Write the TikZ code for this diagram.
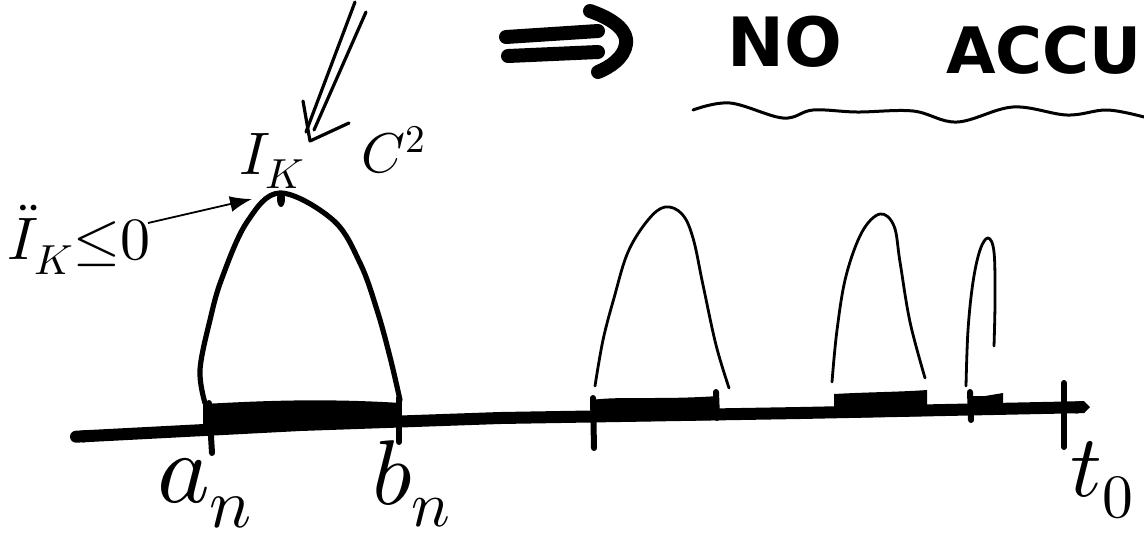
\documentclass[tikz,border=0pt]{standalone}
\usepackage{fontspec}
\usepackage{unicode-math}
\setmathfont{Latin Modern Math}
\newfontfamily\headfont{DejaVu Sans}
\usetikzlibrary{arrows.meta}
\tikzset{
  axisline/.style={line width=6pt, line join=round},
  tickmark/.style={line width=3pt, line cap=round},
  barfill/.style={fill=black},
  humpthick/.style={line width=2.6pt, line cap=round, line join=round},
  humpthin/.style={line width=1.4pt, line cap=round, line join=round},
  wavy/.style={line width=1.5pt, line cap=round},
  pointer/.style={line width=0.9pt, -{Latex[length=11pt,width=8pt]}},
  vee/.style={line width=1.6pt, line cap=round, line join=round},
  marker/.style={line width=7pt, line cap=round, line join=round},
  lbl/.style={inner sep=0pt},
  head/.style={inner sep=0pt, font=\headfont\bfseries\fontsize{32}{32}\selectfont}
}
\begin{document}
\begin{tikzpicture}[x=0.5pt,y=-0.5pt]
\useasboundingbox (0,0) rectangle (1144,542);

% header: hand-drawn implication arrow
\coordinate (i1s) at (506,37); \coordinate (i1e) at (598,31);
\coordinate (i2s) at (508,56); \coordinate (i2e) at (598,52);
\coordinate (h0) at (590,11); \coordinate (h1) at (626,44); \coordinate (h2) at (598,72);
\draw[marker] (i1s) -- (i1e);
\draw[marker] (i2s) -- (i2e);
\draw[marker] (h0) .. controls (616,20) and (628,32) .. (h1) .. controls (624,58) and (610,67) .. (h2);
\node[head, font=\headfont\bfseries\fontsize{34}{34}\selectfont] (no) at (785,42) {NO};
\node[head, anchor=west] (accu) at (946,50) {ACCU};
\draw[wavy] plot[smooth, tension=0.6] coordinates {(693,110) (730,103) (783,118) (813,110) (857,112) (913,111) (957,122) (1013,107) (1067,115) (1107,110) (1144,117)};

% axis
\coordinate (ax0) at (70,437);
\coordinate (ax1) at (1090,407);
\draw[axisline, {Round Cap}-{Triangle Cap}] (ax0) -- (300,425) -- (500,418) -- (800,413) -- (ax1);

% bars
\fill[barfill] (203,432) -- (203,404) .. controls (260,401) and (320,398) .. (401,403) -- (401,426) -- cycle;
\fill[barfill] (591,422) -- (591,400) .. controls (620,396) and (660,400) .. (718,396) -- (718,420) -- cycle;
\fill[barfill] (834,418) -- (834,394) .. controls (870,392) and (900,392) .. (927,390) -- (927,416) -- cycle;
\fill[barfill] (969,414) -- (969,396) -- (985,396) -- (1003,393) -- (1003,413) -- cycle;

% ticks
\coordinate (ta0) at (209,403); \coordinate (ta1) at (212,453);
\coordinate (tb0) at (399,398); \coordinate (tb1) at (399,442);
\coordinate (tc0) at (593,398); \coordinate (tc1) at (594,448);
\coordinate (td0) at (716,392); \coordinate (td1) at (717,418);
\coordinate (te0) at (970,392); \coordinate (te1) at (971,420);
\coordinate (tt0) at (1064,383); \coordinate (tt1) at (1064,447);
\foreach \p in {a,b,c,d,e,t} \draw[tickmark] (t\p0) -- (t\p1);

% humps
\draw[humpthick] plot[smooth, tension=0.6] coordinates {(205,403) (200,370) (210,320) (222,278) (247,222) (280,193) (333,220) (360,263) (377,310) (390,357) (400,400)};
\fill (281,199) ellipse (4 and 8);
\coordinate (peak) at (252,199);
\draw[humpthin] plot[smooth, tension=0.6] coordinates {(595,386) (603,340) (614,298) (628,252) (648,220) (665,207) (682,214) (693,238) (703,285) (716,345) (729,388)};
\draw[humpthin] plot[smooth, tension=0.6] coordinates {(832,382) (837,330) (846,276) (862,232) (880,214) (894,226) (900,262) (910,322) (925,378)};
\draw[humpthin] plot[smooth, tension=0.6] coordinates {(966,386) (968,330) (973,282) (980,250) (988,238) (994,252) (995,300) (994,346)};

% labels
\node[lbl, font=\fontsize{30}{30}\selectfont] (ddI) at (79,240) {$\ddot{I}_K{\le}0$};
\coordinate (ddIe) at (148,223);
\draw[pointer] (ddIe) -- (peak);
\node[lbl, font=\fontsize{30}{30}\selectfont] (IK) at (272,161) {$I_K$};
\node[lbl, font=\fontsize{28}{28}\selectfont] (C2) at (394,150) {$C^2$};

% double arrow pointing to I_K
\coordinate (d1s) at (355,2); \coordinate (d1e) at (306,132);
\coordinate (d2s) at (366,12); \coordinate (d2e) at (314,130);
\coordinate (tip) at (310,141); \coordinate (armL) at (303,101); \coordinate (armR) at (349,123);
\draw[vee] (d1s) -- (d1e);
\draw[vee] (d2s) -- (d2e);
\draw[vee] (armL) -- (tip) -- (armR);

\node[lbl, font=\fontsize{50}{50}\selectfont] (an) at (205,493) {$a_n$};
\node[lbl, font=\fontsize{46}{46}\selectfont] (bn) at (412,484) {$b_n$};
\node[lbl, font=\fontsize{44}{44}\selectfont] (t0) at (1102,480) {$t_0$};
\end{tikzpicture}
\end{document}
